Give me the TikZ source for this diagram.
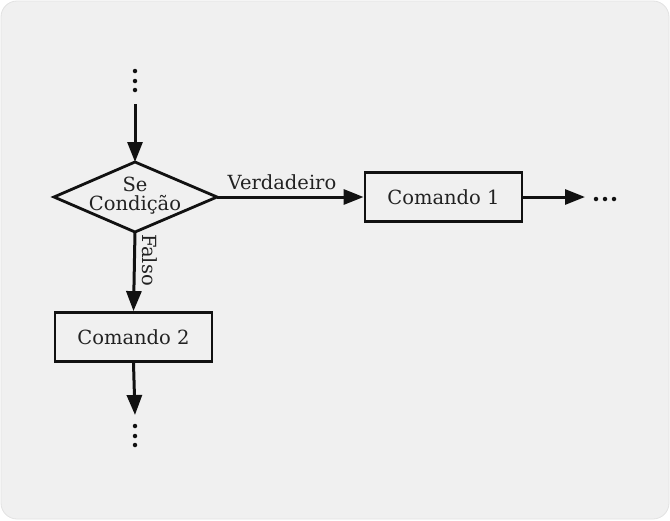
\documentclass[tikz,border=0pt]{standalone}
\usepackage{fontspec}
\setmainfont{DejaVu Serif}
\usetikzlibrary{arrows.meta}
\definecolor{bg}{HTML}{F0F0F0}
\definecolor{bgline}{HTML}{E2E2E2}
\definecolor{ink}{HTML}{111111}
\definecolor{txt}{HTML}{222222}
\begin{document}
\begin{tikzpicture}[x=1pt,y=-1pt,
  flow/.style={line width=3pt, draw=ink, -{Triangle[length=20pt,width=15pt]}},
  cmdbox/.style={draw=ink, line width=2.8pt, minimum width=157pt, minimum height=49pt, inner sep=0pt, font=\fontsize{19.5}{22}\selectfont, text=txt},
  lbl/.style={font=\fontsize{19.5}{22}\selectfont, text=txt, inner sep=0pt},
  dot/.style={circle, fill=ink, inner sep=0pt, minimum size=4.5pt}]
\useasboundingbox (0,0) rectangle (670,520);
\draw[fill=bg, draw=bgline, line width=0.8pt, rounded corners=16pt] (1,1) rectangle (669,519);
% top dots
\node[dot] (t1) at (135,71) {};
\node[dot] (t2) at (135,81) {};
\node[dot] (t3) at (135,90) {};
\coordinate (tstart) at (135,104);
% diamond
\coordinate (dtop) at (135,162);
\coordinate (dleft) at (54,197);
\coordinate (dright) at (217,197);
\coordinate (dbot) at (135,232);
\draw[ink, line width=2.8pt, line join=miter] (dtop) -- (dright) -- (dbot) -- (dleft) -- cycle;
\node[lbl] (se) at (135,184) {Se};
\node[lbl] (cond) at (135,205) {Condição};
% boxes
\node[cmdbox] (c1) at (443.5,197) {Comando 1};
\node[cmdbox] (c2) at (133.5,337) {Comando 2};
% arrows
\draw[flow] (tstart) -- (dtop);
\draw[flow] (dright) -- (c1.west);
\node[lbl] (vlab) at (282,182) {Verdadeiro};
\draw[flow] (dbot) -- (c2.north);
\node[lbl, rotate=-90] (flab) at (150,260) {Falso};
\coordinate (c1end) at (585,197);
\draw[flow] (c1.east) -- (c1end);
\coordinate (c2end) at (135,415);
\draw[flow] (c2.south) -- (c2end);
% right dots
\node[dot] (r1) at (596,199) {};
\node[dot] (r2) at (605,199) {};
\node[dot] (r3) at (614,199) {};
% bottom dots
\node[dot] (b1) at (135,426) {};
\node[dot] (b2) at (135,436) {};
\node[dot] (b3) at (135,445) {};
\end{tikzpicture}
\end{document}
